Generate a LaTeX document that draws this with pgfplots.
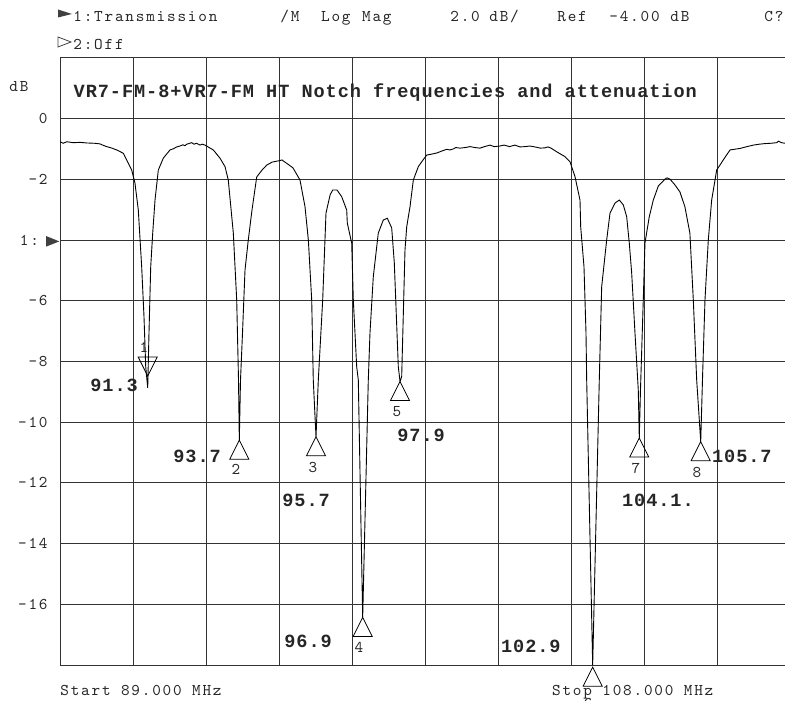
\documentclass[border=0pt]{standalone}
\usepackage{fontspec}
\usepackage{pgfplots}
\pgfplotsset{compat=1.18}
\newfontfamily\bmonofam[LetterSpace=5]{Liberation Mono}
\newfontfamily\thinfam[LetterSpace=11]{lmmono10-regular.otf}
\newcommand\thin{\thinfam\fontsize{8.2pt}{10pt}\selectfont}
\newcommand\bmono{\bmonofam\bfseries\fontsize{9.3pt}{11pt}\selectfont}
\begin{document}
\begin{tikzpicture}
\begin{axis}[
  at={(0pt,0pt)}, anchor=south west,
  scale only axis, width=365pt, height=303.5pt,
  xmin=89, xmax=108, ymin=-18, ymax=2,
  xtick={89,90.9,92.8,94.7,96.6,98.5,100.4,102.3,104.2,106.1,108},
  xticklabels={},
  ytick={-18,-16,-14,-12,-10,-8,-6,-4,-2,0,2},
  yticklabels={{},-16,-14,-12,-10,-8,-6,{1:\hphantom{0}},-2,0,{}},
  grid=major,
  grid style={black!80, line width=0.5pt},
  axis line style={black!80, line width=0.5pt},
  major tick length=0pt,
  yticklabel style={font=\thin, inner sep=0pt, xshift=-6pt, text=black!85},
  clip=false,
]
\addplot[black, line width=0.45pt, mark=none] coordinates {
(89.000,-0.76) (89.086,-0.81) (89.174,-0.76) (89.346,-0.79) (89.520,-0.78) (89.700,-0.80)
(89.900,-0.81) (90.041,-0.83) (90.130,-0.88) (90.215,-0.92) (90.330,-0.96) (90.476,-1.03) (90.648,-1.14) (90.736,-1.36)
(90.866,-1.69) (90.952,-2.13) (91.038,-3.01) (91.126,-4.88) (91.186,-6.52)
(91.231,-8.17) (91.283,-8.87) (91.316,-7.06) (91.361,-4.88) (91.413,-3.77)
(91.473,-2.68) (91.559,-1.69) (91.689,-1.30) (91.863,-1.03) (91.950,-0.99) (92.040,-0.93) (92.123,-0.90)
(92.200,-0.86) (92.250,-0.89) (92.300,-0.84) (92.428,-0.79) (92.490,-0.84) (92.550,-0.81) (92.644,-0.87) (92.700,-0.84) (92.774,-0.87)
(92.990,-1.03) (93.164,-1.30) (93.295,-1.58) (93.380,-2.02) (93.511,-3.77)
(93.599,-5.97) (93.646,-8.61) (93.667,-10.59) (93.698,-8.61) (93.750,-7.06)
(93.815,-4.99) (93.900,-4.00) (93.997,-3.01) (94.120,-1.92) (94.260,-1.69)
(94.380,-1.53) (94.520,-1.43) (94.682,-1.39) (94.780,-1.36) (94.840,-1.42) (94.900,-1.47)
(95.064,-1.62) (95.246,-2.02) (95.377,-2.90) (95.464,-4.00) (95.551,-5.97)
(95.592,-8.61) (95.663,-10.48) (95.723,-8.61) (95.837,-5.97) (95.923,-3.11)
(96.030,-2.51) (96.098,-2.35) (96.210,-2.35) (96.332,-2.57) (96.462,-3.01)
(96.478,-3.44) (96.592,-4.10) (96.634,-5.97) (96.722,-8.17) (96.764,-8.61)
(96.878,-16.43) (97.024,-8.61) (97.068,-7.06) (97.154,-5.21) (97.284,-3.77)
(97.414,-3.34) (97.519,-3.28) (97.633,-3.60) (97.701,-4.75) (97.805,-8.17)
(97.850,-8.66) (97.893,-8.50) (97.979,-4.33) (98.024,-3.56) (98.110,-2.90)
(98.196,-2.02) (98.326,-1.58) (98.414,-1.42) (98.544,-1.20) (98.700,-1.16) (98.805,-1.13)
(98.950,-1.06) (99.065,-1.01) (99.150,-1.03) (99.250,-0.99) (99.300,-0.95) (99.410,-0.97) (99.550,-0.95) (99.670,-0.92) (99.800,-0.95) (99.930,-0.97)
(100.050,-0.92) (100.190,-0.87) (100.300,-0.92) (100.450,-0.90) (100.560,-0.87) (100.700,-0.92) (100.840,-0.87) (100.970,-0.93) (101.100,-0.92) (101.230,-0.90)
(101.400,-0.94) (101.500,-0.97) (101.620,-0.96) (101.700,-0.93) (101.780,-0.97) (101.927,-1.09) (102.143,-1.25) (102.274,-1.42)
(102.404,-1.91) (102.534,-2.68) (102.552,-3.56) (102.638,-4.88) (102.690,-7.06)
(102.708,-8.61) (102.864,-18.00) (103.036,-8.61) (103.098,-5.54) (103.228,-4.00)
(103.315,-3.11) (103.445,-2.78) (103.557,-2.68) (103.661,-2.84) (103.749,-3.23)
(103.817,-4.10) (103.879,-5.08) (103.965,-7.06) (104.051,-8.94) (104.077,-10.52)
(104.108,-8.94) (104.181,-5.97) (104.225,-4.10) (104.337,-3.23) (104.442,-2.68)
(104.572,-2.22) (104.746,-1.99) (104.800,-1.95) (104.876,-1.99) (105.004,-2.18) (105.134,-2.41)
(105.264,-2.90) (105.394,-3.77) (105.483,-5.97) (105.571,-8.61) (105.676,-10.64)
(105.727,-8.38) (105.787,-5.97) (105.873,-4.00) (105.961,-2.68) (106.092,-1.69)
(106.263,-1.36) (106.438,-1.03) (106.698,-0.98) (106.850,-0.93) (107.045,-0.87) (107.200,-0.84) (107.350,-0.82)
(107.500,-0.81) (107.654,-0.79) (107.700,-0.74) (107.780,-0.79) (107.870,-0.81) (108.000,-0.80)
};
\addplot[only marks, mark=triangle, mark size=5.5pt, black, line width=0.4pt,
  every mark/.append style={yshift=-6.35pt, yscale=1.155}] coordinates {
(93.667,-10.59) (95.663,-10.48) (96.878,-16.43) (97.850,-8.66)
(102.864,-18.07) (104.077,-10.52) (105.676,-10.64)
};
\addplot[only marks, mark=triangle, mark size=5.5pt, black, line width=0.4pt,
  every mark/.append style={yshift=6.35pt, yscale=-1.155}] coordinates {
(91.283,-8.48)
};
\end{axis}
% reference level indicator on the y axis
\fill[black!75] (-7pt,214.5pt) -- (-0.35pt,211.8pt) -- (-7pt,209.15pt) -- cycle;
% header
\fill[black!75] (-1pt,327.75pt) -- (6pt,325.5pt) -- (-1pt,323.75pt) -- cycle;
\draw[black!75, line width=0.4pt] (-1pt,314pt) -- (5.5pt,311.5pt) -- (-1pt,309pt) -- cycle;
\begin{scope}[every node/.style={anchor=base west, inner sep=0pt, font=\thin, text=black!85}]
\node at (6.5pt,321.65pt) {1:Transmission};
\node at (110pt,321.65pt) {/M};
\node at (130.35pt,321.65pt) {Log};
\node at (150.85pt,321.65pt) {Mag};
\node at (195pt,321.65pt) {2.0};
\node at (214.5pt,321.65pt) {dB/};
\node at (248.5pt,321.65pt) {Ref};
\node at (274.5pt,321.65pt) {-4.00};
\node at (305pt,321.65pt) {dB};
\node at (352pt,321.65pt) {C?};
\node at (6.5pt,307.5pt) {2:Off};
\node at (-25.5pt,286.5pt) {dB};
\node at (0pt,-15pt) {Start 89.000 MHz};
\node at (245.85pt,-15pt) {Stop 108.000 MHz};
\end{scope}
% title
\node[anchor=base west, inner sep=0pt, font=\bmono, text=black!85] at (6.65pt,283.85pt)
  {VR7-FM-8+VR7-FM HT Notch frequencies and attenuation};
% frequency labels
\begin{scope}[every node/.style={anchor=base west, inner sep=0pt, font=\bmono, text=black!85}]
\node at (15pt,136.5pt) {91.3};
\node at (56.5pt,101pt) {93.7};
\node at (111pt,79pt) {95.7};
\node at (112pt,9pt) {96.9};
\node at (168.5pt,111.5pt) {97.9};
\node at (220.35pt,6.15pt) {102.9};
\node at (280.85pt,79pt) {104.1.};
\node at (325.85pt,101pt) {105.7};
\end{scope}
% marker numbers
\begin{scope}[every node/.style={inner sep=0pt, font=\thin, text=black!85}]
\node at (42pt,159pt) {1};
\node at (88pt,98pt) {2};
\node at (126.5pt,99pt) {3};
\node at (149.5pt,9pt) {4};
\node at (168.5pt,126.5pt) {5};
\node at (264pt,-19pt) {6};
\node at (288pt,98.5pt) {7};
\node at (318.5pt,96.5pt) {8};
\end{scope}
\pgfresetboundingbox
\useasboundingbox (-30pt,-17.5pt) rectangle (362.5pt,332.5pt);
\end{tikzpicture}
\end{document}
